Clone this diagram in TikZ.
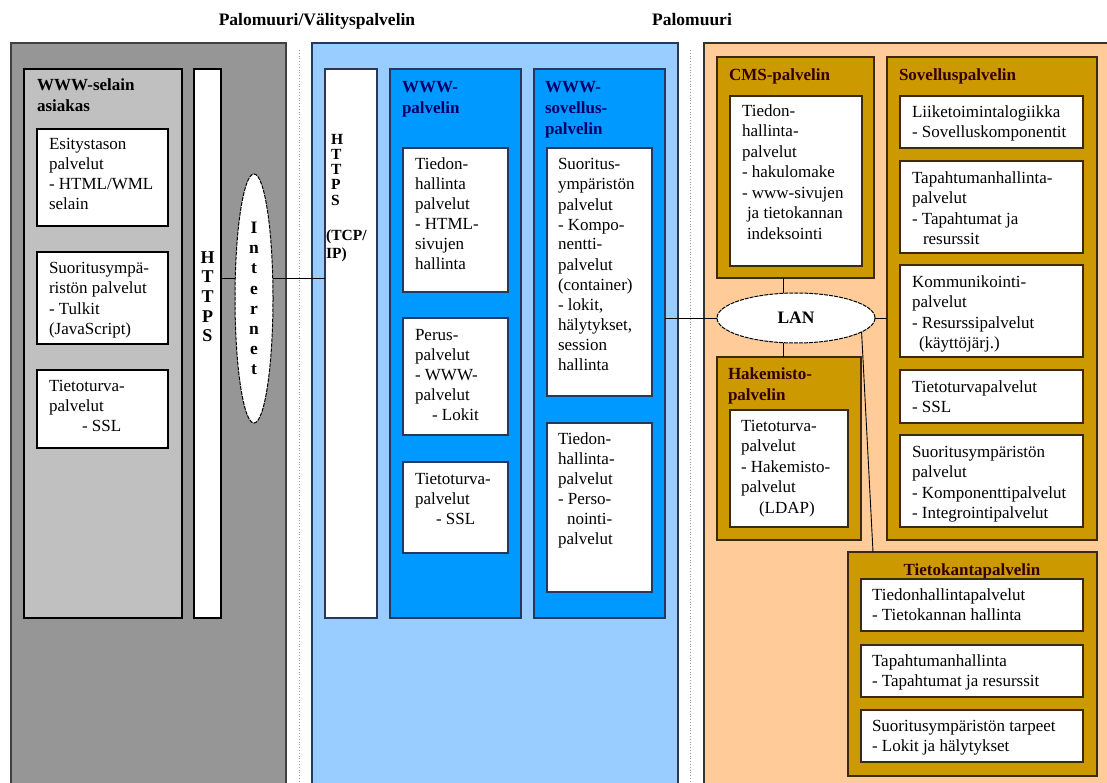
\documentclass[tikz,border=0pt]{standalone}
\usepackage{fontspec}
\setmainfont{Liberation Serif}
\usetikzlibrary{shapes.geometric,calc}
\pgfdeclarelayer{fg}
\pgfsetlayers{main,fg}
\definecolor{gdark}{HTML}{969696}
\definecolor{glight}{HTML}{C0C0C0}
\definecolor{bpale}{HTML}{99CCFF}
\definecolor{bmid}{HTML}{0099FF}
\definecolor{opale}{HTML}{FFCC99}
\definecolor{gold}{HTML}{CC9900}
\definecolor{navy}{HTML}{000066}
\definecolor{brown}{HTML}{330000}
\definecolor{bnav}{HTML}{26385E}
\definecolor{bbrd}{HTML}{3B2A10}
\tikzset{
  panel/.style={rectangle,draw=#1,line width=1.2pt,inner sep=0,outer sep=0},
  wbox/.style={rectangle,draw=black,fill=white,line width=1.1pt,inner sep=0,outer sep=0},
  txt/.style={inner sep=0,outer sep=0,align=left,font=\fontsize{17}{20}\selectfont},
  otxt/.style={inner sep=0,outer sep=0,align=left,font=\fontsize{17}{20.5}\selectfont},
  ttl/.style={inner sep=0,outer sep=0,align=left,font=\fontsize{17}{21}\selectfont\bfseries},
  conn/.style={draw=black,line width=0.9pt},
  cloud/.style={ellipse,draw=black,fill=white,line width=1pt,dash pattern=on 4pt off 1pt,inner sep=0,outer sep=0},
  sep/.style={draw=gray!80,line width=0.8pt,dotted}
}
% box: name, x1, y1, x2, y2, style
\newcommand\bx[6]{\node[#6,anchor=north west,minimum width={#4-#2},minimum height={#5-#3}] (#1) at (#2,#3) {};}
% text: [style], name, x, baseline y, text
\newcommand\tx[5][txt]{\node[#1,anchor=north west] (#2) at (#3,#4-14) {\strut#5};}
\begin{document}
\begin{tikzpicture}[x=1pt,y=-1pt]
\useasboundingbox (0,0) rectangle (1107,783);
\clip (0,0) rectangle (1107,783);
\fill[white] (0,0) rectangle (1107,783);
% headers
\node[inner sep=0,font=\fontsize{17.5}{20}\selectfont\bfseries,anchor=base] (h1) at (317,26) {Palomuuri/Välityspalvelin};
\node[inner sep=0,font=\fontsize{17.5}{20}\selectfont\bfseries,anchor=base] (h2) at (692,26) {Palomuuri};
% separators
\draw[sep] (299,50) -- (299,790);
\draw[sep] (690,50) -- (690,790);
% ---------- gray panel ----------
\bx{gp}{11}{43}{286}{800}{panel=black!75,fill=gdark}
\bx{gi}{24}{69}{182}{618}{panel=black,fill=glight}
\bx{hg}{194}{69}{221}{618}{wbox}
\tx[ttl]{gt}{37}{90}{WWW-selain\\asiakas}
\bx{g1}{37}{129}{168}{226}{wbox}
\tx{g1t}{49}{150}{Esitystason\\palvelut\\- HTML/WML\\selain}
\bx{g2}{37}{252}{168}{344}{wbox}
\tx{g2t}{49}{274}{Suoritusympä-\\ristön palvelut\\- Tulkit\\(JavaScript)}
\bx{g3}{37}{370}{168}{448}{wbox}
\tx{g3t}{49}{391}{Tietoturva-\\palvelut\\\hspace*{33pt}- SSL}
\node[inner sep=0,align=center,font=\fontsize{18}{19.6}\selectfont\bfseries,anchor=north] (hgt) at (207.5,263-13.7) {\strut H\\T\\T\\P\\S};
% ---------- blue panel ----------
\bx{bp}{312}{43}{678}{800}{panel=bnav,fill=bpale}
\bx{hb}{325}{69}{377}{618}{wbox,draw=bnav}
\node[inner sep=0,align=left,font=\fontsize{15.5}{15.2}\selectfont\bfseries,anchor=north west] (hbt) at (331,144-10.6) {\strut H\\T\\T\\P\\S};
\node[inner sep=0,align=left,font=\fontsize{15.5}{18}\selectfont\bfseries,anchor=north west] (hbt2) at (326,240-12.6) {\strut(TCP/\\IP)};
\bx{ww}{390}{69}{521}{618}{panel=bnav,fill=bmid}
\tx[ttl,text=navy]{wwt}{402}{92}{WWW-\\palvelin}
\bx{w1}{403}{148}{508}{292}{wbox,draw=bnav}
\tx{w1t}{415}{170}{Tiedon-\\hallinta\\palvelut\\- HTML-\\sivujen\\hallinta}
\bx{w2}{403}{318}{508}{435}{wbox,draw=bnav}
\tx{w2t}{415}{340}{Perus-\\palvelut\\- WWW-\\palvelut\\\hspace*{17pt}- Lokit}
\bx{w3}{403}{462}{508}{553}{wbox,draw=bnav}
\tx{w3t}{415}{484}{Tietoturva-\\palvelut\\\hspace*{21pt}- SSL}
\bx{ws}{534}{69}{665}{618}{panel=bnav,fill=bmid}
\tx[ttl,text=navy]{wst}{545}{92}{WWW-\\sovellus-\\palvelin}
\bx{s1}{547}{148}{652}{396}{wbox,draw=bnav}
\tx{s1t}{558}{170}{Suoritus-\\ympäristön\\palvelut\\- Kompo-\\nentti-\\palvelut\\(container)\\- lokit,\\hälytykset,\\session\\hallinta}
\bx{s2}{547}{423}{652}{592}{wbox,draw=bnav}
\tx{s2t}{558}{444}{Tiedon-\\hallinta-\\palvelut\\- Perso-\\\hspace*{9pt}nointi-\\palvelut}
% ---------- orange panel ----------
\bx{op}{704}{43}{1120}{800}{panel=black!80,fill=opale}
\bx{cms}{717}{57}{874}{278}{panel=bbrd,fill=gold}
\tx[ttl,text=brown]{cmst}{729}{80}{CMS-palvelin}
\bx{c1}{730}{96}{862}{266}{wbox,draw=bbrd}
\tx[otxt]{c1t}{742}{116}{Tiedon-\\hallinta-\\palvelut\\- hakulomake\\- www-sivujen\\\hspace*{5pt}ja tietokannan\\\hspace*{5pt}indeksointi}
\bx{sov}{887}{57}{1097}{540}{panel=bbrd,fill=gold}
\tx[ttl,text=brown]{sovt}{899}{80}{Sovelluspalvelin}
\bx{o1}{900}{96}{1083}{148}{wbox,draw=bbrd}
\tx[otxt]{o1t}{912}{117}{Liiketoimintalogiikka\\- Sovelluskomponentit}
\bx{o2}{900}{161}{1083}{253}{wbox,draw=bbrd}
\tx[otxt]{o2t}{912}{183}{Tapahtumanhallinta-\\palvelut\\- Tapahtumat ja\\\hspace*{11pt}resurssit}
\bx{o3}{900}{265}{1083}{357}{wbox,draw=bbrd}
\tx[otxt]{o3t}{912}{287}{Kommunikointi-\\palvelut\\- Resurssipalvelut\\\hspace*{7pt}(käyttöjärj.)}
\bx{o4}{900}{370}{1083}{423}{wbox,draw=bbrd}
\tx[otxt]{o4t}{912}{392}{Tietoturvapalvelut\\- SSL}
\bx{o5}{900}{435}{1083}{527}{wbox,draw=bbrd}
\tx[otxt]{o5t}{912}{457}{Suoritusympäristön\\palvelut\\- Komponenttipalvelut\\- Integrointipalvelut}
\bx{hak}{717}{357}{861}{540}{panel=bbrd,fill=gold}
\tx[ttl,text=brown]{hakt}{728}{379}{Hakemisto-\\palvelin}
\bx{h1}{730}{410}{848}{527}{wbox,draw=bbrd}
\tx[otxt]{h1t}{741}{431}{Tietoturva-\\palvelut\\- Hakemisto-\\palvelut\\\hspace*{18pt}(LDAP)}
\bx{tk}{848}{552}{1097}{776}{panel=bbrd,fill=gold}
\node[inner sep=0,font=\fontsize{17}{21}\selectfont\bfseries,text=brown,anchor=base] (tkt) at (972,575) {Tietokantapalvelin};
\bx{k1}{861}{579}{1083}{631}{wbox,draw=bbrd}
\tx[otxt]{k1t}{872}{600}{Tiedonhallintapalvelut\\- Tietokannan hallinta}
\bx{k2}{861}{645}{1083}{697}{wbox,draw=bbrd}
\tx[otxt]{k2t}{872}{666}{Tapahtumanhallinta\\- Tapahtumat ja resurssit}
\bx{k3}{861}{710}{1083}{762}{wbox,draw=bbrd}
\tx[otxt]{k3t}{872}{731}{Suoritusympäristön tarpeet\\- Lokit ja hälytykset}
% ---------- clouds (foreground) ----------
\begin{pgfonlayer}{fg}
\node[cloud,minimum width=38,minimum height=249,align=center,font=\fontsize{17.5}{20.1}\selectfont\bfseries] (inet) at (254,298.5) {I\\n\\t\\e\\r\\n\\e\\t};
\node[cloud,minimum width=158,minimum height=50,font=\fontsize{17.5}{20}\selectfont\bfseries] (lan) at (796,318) {LAN};
\end{pgfonlayer}
% ---------- connectors ----------
\coordinate (iny) at (0,278);
\draw[conn] (hg.east |- iny) -- (hb.west |- iny);
\draw[conn] (ws.east |- lan.center) -- (lan.west);
\draw[conn] (lan.east) -- (sov.west |- lan.center);
\coordinate (cx) at (783,0);
\draw[conn] (cms.south -| cx) -- (cx |- lan.north);
\draw[conn] (hak.north -| cx) -- (cx |- lan.south);
\coordinate (tkin) at ($(tk.north west)+(25,0)$);
\draw[conn] (lan.-12) -- (tkin);
\end{tikzpicture}
\end{document}
